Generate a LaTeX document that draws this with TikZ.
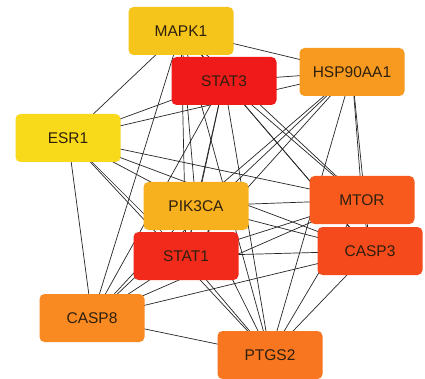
\documentclass[tikz,border=0pt]{standalone}
\usepackage{fontspec}
\setmainfont{Liberation Sans}
\definecolor{cMAPK}{HTML}{F6C51B}
\definecolor{cSTATthree}{HTML}{F01A1A}
\definecolor{cHSP}{HTML}{F89A20}
\definecolor{cESR}{HTML}{F8DA1A}
\definecolor{cPIK}{HTML}{F7B11E}
\definecolor{cMTOR}{HTML}{F85A1E}
\definecolor{cSTATone}{HTML}{F22A1C}
\definecolor{cCASPthree}{HTML}{F44A1C}
\definecolor{cCASPeight}{HTML}{F98A21}
\definecolor{cPTGS}{HTML}{F7761F}
\definecolor{txt}{HTML}{2E200E}
\tikzset{
  gene/.style={rectangle, rounded corners=5pt, minimum width=105pt, minimum height=48pt,
    inner sep=0pt, text=txt, font=\fontsize{15.5}{18}\selectfont},
  link/.style={draw=black!85, line width=0.7pt}
}
\begin{document}
\begin{tikzpicture}[x=1pt,y=-1pt]
\useasboundingbox (0,0) rectangle (425,379);
\fill[white] (0,0) rectangle (425,379);
% coordinates of centres
\coordinate (pMAPK) at (181,31);
\coordinate (pSTAT3) at (224,81);
\coordinate (pHSP) at (352,72);
\coordinate (pESR) at (68,138);
\coordinate (pPIK) at (196,206);
\coordinate (pMTOR) at (362,200);
\coordinate (pSTAT1) at (186,256);
\coordinate (pCASP3) at (370,251);
\coordinate (pCASP8) at (92,318);
\coordinate (pPTGS) at (270,355);
% edges (complete graph)
\foreach \a/\b in {
  pMAPK/pSTAT3, pMAPK/pHSP, pMAPK/pESR, pMAPK/pPIK, pMAPK/pMTOR, pMAPK/pSTAT1, pMAPK/pCASP3, pMAPK/pCASP8, pMAPK/pPTGS,
  pSTAT3/pHSP, pSTAT3/pESR, pSTAT3/pPIK, pSTAT3/pMTOR, pSTAT3/pSTAT1, pSTAT3/pCASP3, pSTAT3/pCASP8, pSTAT3/pPTGS,
  pHSP/pESR, pHSP/pPIK, pHSP/pMTOR, pHSP/pSTAT1, pHSP/pCASP3, pHSP/pCASP8, pHSP/pPTGS,
  pESR/pPIK, pESR/pMTOR, pESR/pSTAT1, pESR/pCASP3, pESR/pCASP8, pESR/pPTGS,
  pPIK/pMTOR, pPIK/pSTAT1, pPIK/pCASP3, pPIK/pCASP8, pPIK/pPTGS,
  pMTOR/pSTAT1, pMTOR/pCASP3, pMTOR/pCASP8, pMTOR/pPTGS,
  pSTAT1/pCASP3, pSTAT1/pCASP8, pSTAT1/pPTGS,
  pCASP3/pCASP8, pCASP3/pPTGS,
  pCASP8/pPTGS}
  \draw[link] (\a) -- (\b);
% nodes
\node[gene, fill=cMAPK] (MAPK1) at (pMAPK) {MAPK1};
\node[gene, fill=cSTATthree] (STAT3) at (pSTAT3) {STAT3};
\node[gene, fill=cHSP] (HSP90AA1) at (pHSP) {HSP90AA1};
\node[gene, fill=cESR] (ESR1) at (pESR) {ESR1};
\node[gene, fill=cPIK] (PIK3CA) at (pPIK) {PIK3CA};
\node[gene, fill=cMTOR] (MTOR) at (pMTOR) {MTOR};
\node[gene, fill=cSTATone] (STAT1) at (pSTAT1) {STAT1};
\node[gene, fill=cCASPthree] (CASP3) at (pCASP3) {CASP3};
\node[gene, fill=cCASPeight] (CASP8) at (pCASP8) {CASP8};
\node[gene, fill=cPTGS] (PTGS2) at (pPTGS) {PTGS2};
\end{tikzpicture}
\end{document}
